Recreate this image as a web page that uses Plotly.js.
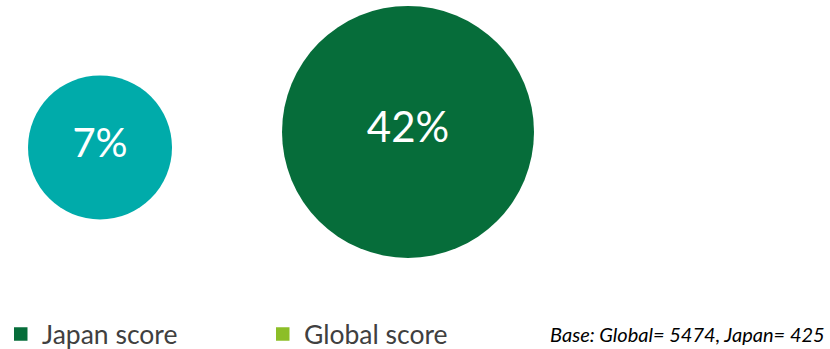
<!DOCTYPE html>
<html>
<head>
<meta charset="utf-8">
<script src="https://cdn.plot.ly/plotly-3.0.1.min.js"></script>
<style>
html,body{margin:0;padding:0;background:#fff;}
#chart{width:830px;height:349px;}
</style>
</head>
<body>
<div id="chart"></div>
<script>
// Data
const bubbleCategories = ["Score A", "Score B"];
const bubbleValues = [7, 42];
const bubbleLabels = ["7%", "42%"];
const legendNames = ["Japan score", "Global score"];
const baseNote = "Base: Global= 5474, Japan= 425";

// Styles / layout positions (not data)
const W = 830, H = 349;
const bubbleColors = ["#00ABAA", "#066D3A"];
const bubbleDiameters = [144, 252];
const bubbleRows = [0.155, 0.244];
const labelSizes = [40, 42];
const legendColors = ["#066D3A", "#8CBE27"];
const legendSwatchLeft = [14, 276];   // px
const legendSwatchSize = 13.5;
const legendCenterY = 334;            // px from top
const legendTextGap = 12;

const traces = [{
  type: "scatter",
  mode: "markers+text",
  x: bubbleCategories.map((c, i) => i),
  y: bubbleRows,
  customdata: bubbleValues,
  text: bubbleLabels,
  textposition: "middle center",
  textfont: {family: "Lato, 'Open Sans', sans-serif", size: labelSizes, color: "#ffffff"},
  marker: {size: bubbleDiameters, sizemode: "diameter", color: bubbleColors, line: {width: 0}, opacity: 1},
  showlegend: false,
  hoverinfo: "skip",
  cliponaxis: false
}];

const shapes = legendNames.map((n, i) => ({
  type: "rect", xref: "paper", yref: "paper",
  x0: legendSwatchLeft[i] / W, x1: (legendSwatchLeft[i] + legendSwatchSize) / W,
  y0: 1 - (legendCenterY + legendSwatchSize / 2) / H, y1: 1 - (legendCenterY - legendSwatchSize / 2) / H,
  fillcolor: legendColors[i], line: {width: 0}
}));

const annotations = legendNames.map((n, i) => ({
  text: n, xref: "paper", yref: "paper",
  x: (legendSwatchLeft[i] + legendSwatchSize + legendTextGap) / W, y: 1 - legendCenterY / H,
  xanchor: "left", yanchor: "middle", showarrow: false,
  font: {family: "Lato, 'Open Sans', sans-serif", size: 26.5, color: "#404040"}
}));
annotations.push({
  text: "<i>" + baseNote + "</i>",
  xref: "paper", yref: "paper", x: 0.996, y: 0.044,
  xanchor: "right", yanchor: "middle", showarrow: false,
  font: {family: "Lato, 'Open Sans', sans-serif", size: 20, color: "#000000"}
});

const layout = {
  width: W, height: H,
  margin: {l: 0, r: 0, t: 0, b: 0},
  paper_bgcolor: "#ffffff", plot_bgcolor: "#ffffff",
  xaxis: {visible: false, range: [-0.3247, 2.3701], fixedrange: true},
  yaxis: {visible: false, range: [-1, 1], fixedrange: true},
  showlegend: false,
  shapes: shapes,
  annotations: annotations
};

Plotly.newPlot("chart", traces, layout, {staticPlot: true, displayModeBar: false});
</script>
</body>
</html>
